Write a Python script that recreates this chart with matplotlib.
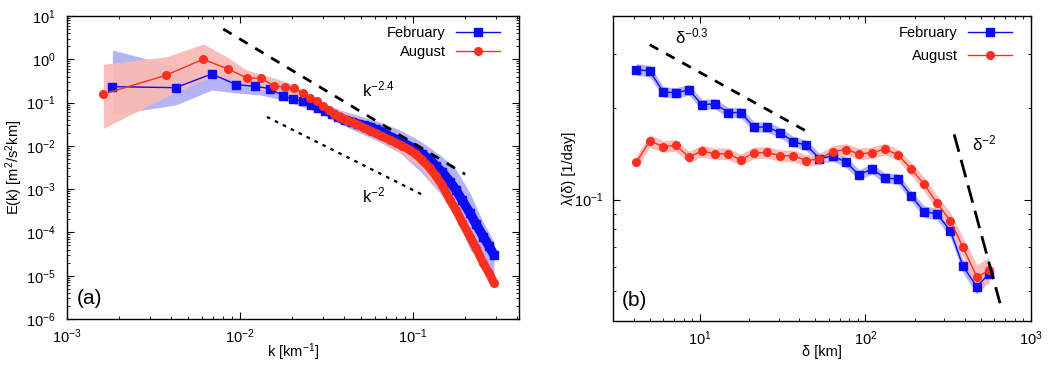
import matplotlib
matplotlib.use("Agg")
import matplotlib.pyplot as plt
from matplotlib.ticker import NullFormatter, LogLocator
import numpy as np

plt.rcParams["font.family"] = ["Liberation Sans", "DejaVu Sans"]
plt.rcParams["mathtext.default"] = "regular"
plt.rcParams["font.size"] = 10.5

BLUE = "#0c0cf5"
RED = "#fb2f1f"
BLUE_BAND = "#b3b3f6"
RED_BAND = "#f9b9b3"

# ---- panel (a): energy spectrum E(k) ----
feb_k = [0.00183, 0.00425, 0.00686, 0.00953, 0.01217, 0.0149, 0.01765, 0.0203,
         0.0230, 0.0256, 0.0284, 0.0310, 0.0339, 0.03685, 0.04045, 0.04439,
         0.04809, 0.05209, 0.05641, 0.0611, 0.06618, 0.07365, 0.07977, 0.0864,
         0.0961, 0.1041, 0.1127, 0.1254, 0.1358, 0.1471, 0.1636, 0.1772, 0.1919,
         0.2135, 0.2312, 0.2549, 0.2750, 0.2938]
feb_E = [0.233, 0.221, 0.458, 0.26, 0.238, 0.21, 0.145, 0.121,
         0.107, 0.088, 0.074, 0.064, 0.0537, 0.0465, 0.03965, 0.03565,
         0.03204, 0.02959, 0.02733, 0.02392, 0.02094, 0.01632, 0.01405, 0.01231,
         0.00958, 0.00804, 0.0065, 0.00473, 0.00343, 0.0025, 0.00149, 9.58e-4, 5.63e-4,
         2.78e-4, 1.57e-4, 8.0e-5, 4.88e-5, 3.02e-5]

aug_k = [0.00161, 0.00373, 0.00611, 0.00855, 0.01093, 0.01327, 0.01573, 0.01813,
         0.0205, 0.0230, 0.0255, 0.0280, 0.0303, 0.0327, 0.0351, 0.0379,
         0.0410, 0.04439, 0.04809, 0.05209, 0.05641, 0.0611, 0.06618, 0.07365,
         0.07977, 0.0864, 0.0961, 0.1041, 0.1127, 0.1254, 0.1358, 0.1471,
         0.1636, 0.1772, 0.1919, 0.2135, 0.2312, 0.2549, 0.2750, 0.2938]
aug_E = [0.1555, 0.427, 1.0, 0.597, 0.37, 0.364, 0.242, 0.225,
         0.214, 0.167, 0.130, 0.107, 0.083, 0.0674, 0.0546, 0.0453,
         0.03965, 0.0347, 0.03039, 0.02591, 0.02244, 0.01934, 0.01649, 0.01368,
         0.01167, 0.00995, 0.00804, 0.00633, 0.00473, 0.00304, 0.00202, 0.00125,
         5.63e-4, 3.31e-4, 1.75e-4, 8.0e-5, 4.39e-5, 1.94e-5, 1.16e-5, 6.8e-6]

# shaded spread around each spectrum
feb_band_k = [0.00183, 0.00275, 0.00425, 0.00686, 0.00952, 0.01305, 0.01773, 0.02222,
              0.02901, 0.03784, 0.04938, 0.06444, 0.0841, 0.1098, 0.1432, 0.1749,
              0.2135, 0.2538, 0.2938]
feb_band_hi = [1.64, 1.07, 0.70, 0.537, 0.37, 0.299, 0.2175, 0.150,
               0.1033, 0.0675, 0.049, 0.0356, 0.0233, 0.013, 0.00616, 0.00309,
               8.17e-4, 1.75e-4, 6.03e-5]
feb_band_lo = [0.0517, 0.0675, 0.0881, 0.1954, 0.1666, 0.150, 0.1148, 0.0834,
               0.0575, 0.032, 0.01986, 0.01231, 0.00686, 0.00263, 8.17e-4, 2.97e-4,
               3.94e-5, 2.08e-5, 1.05e-5]

aug_band_k = [0.001621, 0.003769, 0.006136, 0.008377, 0.01093, 0.01491, 0.01945, 0.02642,
              0.0354, 0.04938, 0.07365, 0.1098, 0.1432, 0.1869, 0.2439, 0.2938]
aug_band_hi = [0.766, 1.148, 2.256, 1.148, 0.566, 0.3965, 0.279, 0.1368,
               0.075, 0.0441, 0.01986, 0.00723, 0.002366, 3.68e-4, 4.63e-5, 8.9e-6]
aug_band_lo = [0.0255, 0.1368, 0.3326, 0.370, 0.269, 0.1757, 0.1347, 0.0881,
               0.0418, 0.0233, 0.00995, 0.003256, 8.62e-4, 1.49e-4, 2.08e-5, 4.96e-6]

# power-law guides: (k range, prefactor, exponent)
guide_a1_k = [0.008, 0.2]
guide_a1_amp, guide_a1_exp = 4.64e-5, -2.4
guide_a2_k = [0.0143, 0.114]
guide_a2_amp, guide_a2_exp = 9.54e-6, -2.0

# ---- panel (b): FSLE lambda(delta) ----
delta = [4.15, 5.0, 6.04, 7.17, 8.63, 10.3, 12.4, 14.9, 17.7, 21.3, 25.6, 30.7,
         36.8, 44.1, 52.9, 63.5, 76.2, 91.6, 109.7, 131.3, 157.3, 188.4, 226.5,
         271.5, 326.6, 389.0, 470.6, 558.0]
feb_lam = [0.267, 0.264, 0.2254, 0.224, 0.229, 0.205, 0.206, 0.193, 0.193, 0.173,
           0.173, 0.1656, 0.155, 0.1506, 0.1364, 0.139, 0.133, 0.1205, 0.1262,
           0.1176, 0.117, 0.1031, 0.0913, 0.0897, 0.0789, 0.0604, 0.0519, 0.0571]
aug_lam = [0.1327, 0.1556, 0.1493, 0.1506, 0.138, 0.1443, 0.1413, 0.1413, 0.135,
           0.1424, 0.1428, 0.1393, 0.1393, 0.1343, 0.136, 0.1438, 0.146, 0.1413,
           0.1424, 0.1465, 0.1402, 0.1264, 0.1123, 0.0973, 0.0851, 0.0697, 0.0558,
           0.0586]
feb_err = [0.045, 0.045, 0.04, 0.04, 0.04, 0.04, 0.04, 0.04, 0.04, 0.04, 0.04, 0.04,
           0.04, 0.04, 0.04, 0.04, 0.04, 0.04, 0.04, 0.04, 0.04, 0.04, 0.045, 0.045,
           0.05, 0.05, 0.06, 0.06]
aug_err = [0.05, 0.05, 0.045, 0.045, 0.045, 0.045, 0.045, 0.045, 0.045, 0.045, 0.045,
           0.045, 0.045, 0.045, 0.045, 0.045, 0.045, 0.045, 0.045, 0.045, 0.045, 0.05,
           0.055, 0.06, 0.065, 0.075, 0.1, 0.1]

guide_b1_d = [5.0, 43.5]
guide_b1_amp, guide_b1_exp = 0.522, -0.3
guide_b2_d = [343.6, 650.0]
guide_b2_amp, guide_b2_exp = 19327.0, -2.0

K_DENSE = 0.034  # beyond this the markers run together into a thick band


def style_axis(ax):
    ax.tick_params(which="both", direction="in", top=True, right=True,
                   colors="black", labelsize=10.5)
    ax.tick_params(which="major", length=5, width=0.8)
    ax.tick_params(which="minor", length=2.5, width=0.6)
    for sp in ax.spines.values():
        sp.set_linewidth(1.0)


fig = plt.figure(figsize=(10.64, 3.67), dpi=100)

# ---------------- (a) ----------------
ax1 = fig.add_axes([0.063, 0.1308, 0.4248, 0.8256])
ax1.set_xscale("log")
ax1.set_yscale("log")

ax1.fill_between(feb_band_k, feb_band_lo, feb_band_hi, color=BLUE_BAND, lw=0, zorder=1)
ax1.fill_between(aug_band_k, aug_band_lo, aug_band_hi, color=RED_BAND, lw=0, alpha=0.92, zorder=2)

fk, fE = np.array(feb_k), np.array(feb_E)
ak, aE = np.array(aug_k), np.array(aug_E)

ax1.plot(fk, fE, color=BLUE, lw=1, marker="s", ms=5.5, label="February", zorder=3)
ax1.plot(fk[fk > K_DENSE], fE[fk > K_DENSE], color=BLUE, lw=6.8,
         solid_capstyle="butt", zorder=3)
ax1.plot(ak, aE, color=RED, lw=1, marker="o", ms=5.5, label="August", zorder=4)
ax1.plot(ak[ak > K_DENSE], aE[ak > K_DENSE], color=RED, lw=6.2,
         solid_capstyle="round", zorder=4)

g1 = np.array(guide_a1_k)
ax1.plot(g1, guide_a1_amp * g1 ** guide_a1_exp, color="black", lw=2.0,
         dashes=(3.5, 3.2), zorder=5)
g2 = np.array(guide_a2_k)
ax1.plot(g2, guide_a2_amp * g2 ** guide_a2_exp, color="black", lw=1.6,
         dashes=(1.6, 2.4), zorder=5)

ax1.text(0.0507, 0.20, "k$^{-2.4}$", fontsize=12, ha="left", va="center")
ax1.text(0.0507, 7.0e-4, "k$^{-2}$", fontsize=12, ha="left", va="center")
ax1.text(0.022, 0.035, "(a)", transform=ax1.transAxes, fontsize=15,
         ha="left", va="bottom")

ax1.set_xlim(1e-3, 0.41)
ax1.set_ylim(1e-6, 10)
ax1.yaxis.set_major_locator(LogLocator(base=10, numticks=20))
ax1.yaxis.set_minor_locator(LogLocator(base=10, subs=np.arange(2, 10), numticks=20))
ax1.yaxis.set_minor_formatter(NullFormatter())
ax1.xaxis.set_minor_formatter(NullFormatter())
style_axis(ax1)
ax1.tick_params(axis="y", pad=8)
ax1.tick_params(axis="x", pad=6)
ax1.set_xlabel("k [km$^{-1}$]", fontsize=10.5)
ax1.set_ylabel("E(k) [m$^2$/s$^2$km]", fontsize=10.5)
ax1.xaxis.set_label_coords(0.5, -0.075)
ax1.yaxis.set_label_coords(-0.092, 0.5)
ax1.legend(loc="upper right", bbox_to_anchor=(1 - 9 / 452, 1), frameon=False,
           markerfirst=False, handlelength=3.0, fontsize=10.5, borderaxespad=0.3,
           labelspacing=0.35, handletextpad=0.7)

# ---------------- (b) ----------------
ax2 = fig.add_axes([0.5761, 0.1253, 0.3929, 0.8311])
ax2.set_xscale("log")
ax2.set_yscale("log")

d = np.array(delta)
fl, al = np.array(feb_lam), np.array(aug_lam)
fe, ae = np.array(feb_err), np.array(aug_err)

ax2.fill_between(d, fl / (1 + fe), fl * (1 + fe), color=BLUE_BAND, lw=0, zorder=1)
ax2.fill_between(d, al / (1 + ae), al * (1 + ae), color=RED_BAND, lw=0, alpha=0.92, zorder=2)
ax2.plot(d, fl, color=BLUE, lw=1, marker="s", ms=5.5, label="February", zorder=3)
ax2.plot(d, al, color=RED, lw=1, marker="o", ms=5.5, label="August", zorder=4)

gb1 = np.array(guide_b1_d)
ax2.plot(gb1, guide_b1_amp * gb1 ** guide_b1_exp, color="black", lw=2.0,
         dashes=(3.5, 3.2), zorder=5)
gb2 = np.array(guide_b2_d)
ax2.plot(gb2, guide_b2_amp * gb2 ** guide_b2_exp, color="black", lw=2.0,
         dashes=(6.5, 3.0), zorder=5)

ax2.text(7.06, 0.344, "\u03b4$^{-0.3}$", fontsize=12, ha="left", va="center")
ax2.text(441, 0.153, "\u03b4$^{-2}$", fontsize=12, ha="left", va="center")
ax2.text(0.022, 0.035, "(b)", transform=ax2.transAxes, fontsize=15,
         ha="left", va="bottom")

ax2.set_xlim(3, 1000)
ax2.set_ylim(0.04, 0.4)
ax2.yaxis.set_major_locator(LogLocator(base=10, numticks=10))
ax2.yaxis.set_minor_locator(LogLocator(base=10, subs=np.arange(2, 10), numticks=10))
ax2.yaxis.set_minor_formatter(NullFormatter())
ax2.xaxis.set_minor_formatter(NullFormatter())
style_axis(ax2)
ax2.tick_params(axis="y", pad=7)
ax2.tick_params(axis="x", pad=6)
ax2.set_xlabel("\u03b4 [km]", fontsize=10.5)
ax2.set_ylabel("\u03bb(\u03b4) [1/day]", fontsize=10.5)
ax2.xaxis.set_label_coords(0.5, -0.08)
ax2.yaxis.set_label_coords(-0.089, 0.5)
ax2.legend(loc="upper right", bbox_to_anchor=(1 - 9 / 418, 1), frameon=False,
           markerfirst=False, handlelength=3.0, fontsize=10.5, borderaxespad=0.3,
           labelspacing=0.6, handletextpad=0.7)

fig.savefig("out.png", dpi=100)
